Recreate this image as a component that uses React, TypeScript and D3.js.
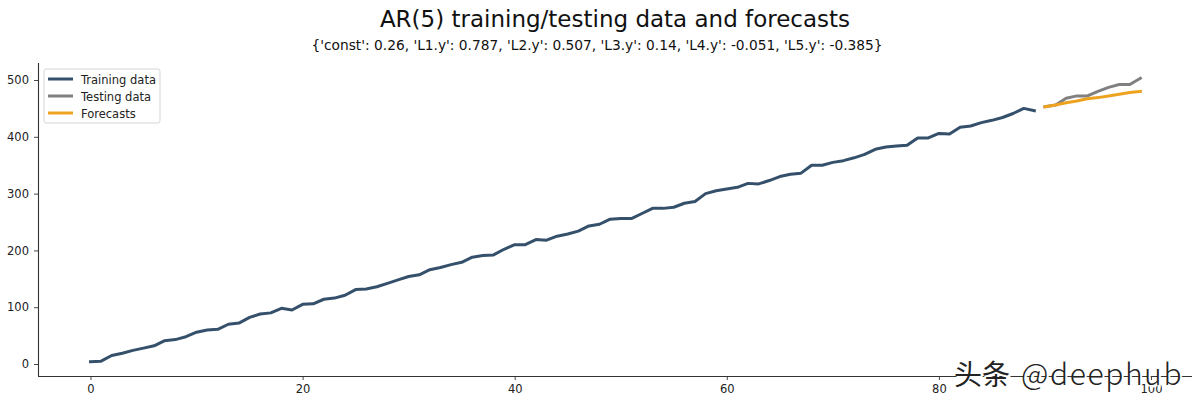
import React, { useEffect, useRef } from 'react';
import * as d3 from 'd3';

// values
const trainingData = [
  4, 5, 15, 19, 24, 28, 32, 41, 43, 48,
  56, 60, 61, 70, 72, 82, 88, 90, 98, 95,
  105, 106, 114, 116, 121, 131, 132, 136, 142, 148,
  154, 157, 166, 170, 175, 179, 188, 191, 192, 202,
  210, 210, 219, 218, 225, 229, 234, 243, 246, 255,
  256, 256, 265, 274, 274, 276, 283, 286, 300, 305,
  308, 311, 318, 317, 323, 330, 334, 336, 350, 350,
  355, 358, 363, 369, 378, 382, 384, 385, 398, 398,
  406, 405, 417, 419, 425, 429, 434, 441, 450, 446,
];
const testingData = [453, 456, 468, 472, 472, 480, 487, 492, 492, 503];
const forecastData = [453, 456, 460, 463, 467, 469, 472, 475, 478, 480];
const xTicks = [0, 20, 40, 60, 80, 100];
const yTicks = [0, 100, 200, 300, 400, 500];
const legendLabels = ['Training data', 'Testing data', 'Forecasts'];
const legendColors = ['#35506b', '#808080', '#eda31f'];
const title = 'AR(5) training/testing data and forecasts';
const subtitle = "{'const': 0.26, 'L1.y': 0.787, 'L2.y': 0.507, 'L3.y': 0.14, 'L4.y': -0.051, 'L5.y': -0.385}";
const markCjk = '头条';
const markLatin = '@deephub';

const font = '"DejaVu Sans", sans-serif';
const markFont = '"Noto Sans CJK SC", "Noto Sans", sans-serif';

const App: React.FC = () => {
  const svgRef = useRef<SVGSVGElement>(null);

  useEffect(() => {
    if (!svgRef.current) return;
    const svg = d3.select(svgRef.current);
    svg.selectAll('*').remove();

    const x = d3.scaleLinear().domain([0, 100]).range([90.5, 1151]);
    const y = d3.scaleLinear().domain([0, 500]).range([364, 80]);
    const line = d3.line<number>().x(d => d[0]).y(d => d[1]) as any;

    const path = (vals: number[], start: number) =>
      line(vals.map((v, i) => [x(start + i), y(v)]));

    // axes
    const bottom = svg.append('g')
      .attr('transform', 'translate(0,376)')
      .call(d3.axisBottom(x).tickValues(xTicks).tickFormat(d3.format('d')).tickSize(4).tickPadding(5));
    bottom.select('.domain').attr('d', 'M38,0.5H1192');
    const left = svg.append('g')
      .attr('transform', 'translate(38,0)')
      .call(d3.axisLeft(y).tickValues(yTicks).tickFormat(d3.format('d')).tickSize(4).tickPadding(5));
    left.select('.domain').attr('d', 'M0.5,63V376.5');
    svg.selectAll('.tick text').attr('font-size', 11.5).attr('font-family', font).attr('fill', '#222');
    svg.selectAll('.domain').attr('stroke', '#333').attr('stroke-width', 1.1);
    svg.selectAll('.tick line').attr('stroke', '#333').attr('stroke-width', 0.9);

    // series
    const series: [number[], number, string][] = [
      [trainingData, 0, legendColors[0]],
      [testingData, trainingData.length, legendColors[1]],
      [forecastData, trainingData.length, legendColors[2]],
    ];
    series.forEach(([vals, start, color]) => {
      svg.append('path')
        .attr('d', path(vals, start))
        .attr('fill', 'none')
        .attr('stroke', color)
        .attr('stroke-width', 3)
        .attr('stroke-linecap', 'square')
        .attr('stroke-linejoin', 'round');
    });

    // titles
    svg.append('text').attr('x', 615).attr('y', 27).attr('text-anchor', 'middle')
      .attr('font-family', font).attr('font-size', 23).attr('fill', '#111').text(title);
    svg.append('text').attr('x', 597).attr('y', 50).attr('text-anchor', 'middle')
      .attr('font-family', font).attr('font-size', 13.75).attr('fill', '#111').text(subtitle);

    // legend
    const legend = svg.append('g').attr('transform', 'translate(44,69)');
    legend.append('rect').attr('x', 0).attr('y', 0).attr('width', 116).attr('height', 54).attr('rx', 2)
      .attr('fill', 'white').attr('stroke', '#d5d5d5');
    legendLabels.forEach((label, i) => {
      const row = legend.append('g').attr('transform', `translate(0,${10 + i * 17})`);
      row.append('line').attr('x1', 4).attr('x2', 29).attr('stroke', legendColors[i]).attr('stroke-width', 3);
      row.append('text').attr('x', 37).attr('y', 4.5).attr('font-family', font).attr('font-size', 11.5)
        .attr('fill', '#222').text(label);
    });

    // watermark: white offset copy under a dark one
    const drawMark = (dx: number, dy: number, fill: string, halo: boolean) => {
      const parts: [string, number, number, number, number][] = [
        [markCjk, 954, 385, 28, 400],
        [markLatin, 1021, 385, 30, 300],
      ];
      parts.forEach(([text, px, py, size, weight]) => {
        svg.append('text').attr('x', px + dx).attr('y', py + dy)
          .attr('font-family', markFont).attr('font-weight', weight).attr('font-size', size)
          .attr('letter-spacing', text === markLatin ? 1.6 : 0)
          .attr('fill', fill).attr('stroke', halo ? fill : 'none').attr('stroke-width', halo ? 1 : 0)
          .text(text);
      });
    };
    drawMark(1.5, 1.5, 'white', true);
    drawMark(0, 0, '#222', false);
  }, []);

  return (
    <svg ref={svgRef} width={1200} height={403}
      style={{ position: 'absolute', left: 0, top: 0, background: 'white' }} />
  );
};

export default App;
